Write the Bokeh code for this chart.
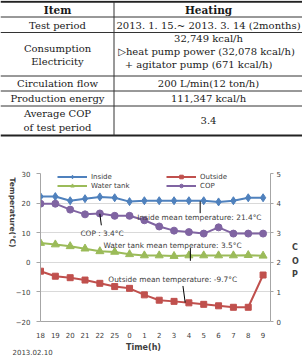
import math
from bokeh.plotting import figure
from bokeh.models import (Range1d, LinearAxis, Legend, LegendItem, Label, FixedTicker)
from bokeh.layouts import column
from bokeh.embed import file_html
from bokeh.resources import INLINE

# ---------------- data ----------------
hours = ["18", "19", "20", "21", "22", "25", "0", "1", "2", "3", "4", "5", "6", "7", "8", "9"]
inside = [22.2, 22.2, 20.8, 21.5, 22.1, 21.8, 20.5, 20.8, 20.8, 20.8, 20.8, 20.8, 20.4, 20.8, 21.8, 21.8]
outside = [-3.0, -4.7, -5.2, -6.0, -7.1, -8.2, -8.8, -11.0, -12.8, -13.2, -13.7, -14.2, -14.7, -15.2, -15.2, -4.3]
water_tank = [6.5, 6.0, 5.4, 4.6, 3.7, 3.5, 2.7, 2.3, 2.3, 2.1, 2.3, 2.3, 2.3, 2.3, 2.4, 2.2]
cop = [3.98, 3.98, 3.78, 3.62, 3.65, 3.57, 3.57, 3.42, 3.21, 3.07, 3.02, 2.97, 3.18, 2.97, 2.97, 2.97]

mean_inside = 21.4
mean_water = 3.5
mean_outside = -9.7
mean_cop = 3.4

table_items = ["Item", "Test period", "Consumption\nElectricity", "Circulation flow",
               "Production energy", "Average COP\nof test period"]
table_heating = ["Heating", "2013. 1. 15.~ 2013. 3. 14 (2months)",
                 "32,749 kcal/h\n\u25b7heat pump power (32,078 kcal/h)\n+ agitator pump (671 kcal/h)",
                 "200 L/min(12 ton/h)", "111,347 kcal/h", "3.4"]

W = 302


def no_frame_align(f):
    # each figure keeps its own frame; no lining up with the neighbours in the column
    if "frame_align" in f.properties():
        f.frame_align = False
    return f


def blank_panel(h):
    """A bare figure whose data units are the canvas pixels (y grows downward)."""
    f = figure(width=W, height=h, x_range=Range1d(0, W), y_range=Range1d(h, 0),
               output_backend="svg", toolbar_location=None,
               min_border_left=0, min_border_right=0, min_border_top=0, min_border_bottom=0,
               x_axis_location=None, y_axis_location=None, title=None)
    f.grid.visible = False
    f.outline_line_color = None
    return no_frame_align(f)


# ---------------- table ----------------
TH = 140
t = blank_panel(TH)

col_split = 113.5
row_lines = [16.5, 32, 75.5, 90.5, 105.5]
t.segment(x0=[0] * len(row_lines), x1=[W] * len(row_lines), y0=row_lines, y1=row_lines,
          line_color="#333333", line_width=1)
t.segment(x0=[0, 0], x1=[W, W], y0=[1.2, 135], y1=[1.2, 135], line_color="#222222", line_width=2)
t.segment(x0=[col_split], x1=[col_split], y0=[1], y1=[135], line_color="#333333", line_width=1)

# line centres of each cell's text
left_y = [[9], [24.5], [47.5, 61], [83], [98], [113, 127]]
right_y = [[9], [24.5], [38, 51, 64], [83], [98], [120]]
right_x = [[208], [208], [208, 206, 198], [208], [208], [208]]

cell_kw = dict(text_align="center", text_baseline="middle", text_color="#1a1a1a",
               text_font="DejaVu Serif")
for i, (a, b) in enumerate(zip(table_items, table_heating)):
    style = dict(text_font_style="bold", text_font_size="10.5px") if i == 0 else \
        dict(text_font_size="10px")
    for s, yy in zip(a.split("\n"), left_y[i]):
        t.add_layout(Label(x=57, y=yy, text=s, **cell_kw, **style))
    for s, yy, xx in zip(b.split("\n"), right_y[i], right_x[i]):
        t.add_layout(Label(x=xx, y=yy, text=s, **cell_kw, **style))

# ---------------- chart ----------------
blue, red, green, purple = "#4F81BD", "#C0504D", "#9BBB59", "#8064A2"
xs = list(range(len(hours)))

p = figure(width=W, height=200, x_range=Range1d(0, 15.5), y_range=Range1d(-20, 30),
           output_backend="svg", toolbar_location=None,
           min_border_left=40, min_border_right=32, min_border_top=33, min_border_bottom=15)
no_frame_align(p)
p.outline_line_color = None
p.xgrid.visible = False
p.ygrid.grid_line_color = "#d9d9d9"
p.ygrid.ticker = FixedTicker(ticks=[-20, -10, 0, 10, 20, 30])

p.extra_y_ranges = {"cop": Range1d(0, 5)}

tick_font = dict(major_label_text_font="DejaVu Sans", major_label_text_font_size="7px",
                 major_label_text_color="#404040")
title_font = dict(axis_label_text_font="DejaVu Sans", axis_label_text_font_style="bold",
                  axis_label_text_color="#404040", axis_label_text_font_size="8px")

xa = p.xaxis[0]
xa.ticker = FixedTicker(ticks=xs)
xa.major_label_overrides = {i: h for i, h in enumerate(hours)}
xa.axis_line_color = "#a6a6a6"
xa.major_tick_line_color = None
xa.minor_tick_line_color = None
xa.major_label_standoff = 4
for k, v in tick_font.items():
    setattr(xa, k, v)

ya = p.yaxis[0]
ya.ticker = FixedTicker(ticks=[-20, -10, 0, 10, 20, 30])
ya.axis_line_color = "#a6a6a6"
ya.major_tick_line_color = "#a6a6a6"
ya.major_tick_out = 4
ya.major_tick_in = 0
ya.minor_tick_line_color = None
ya.major_label_standoff = 6
ya.axis_label = "Temperature(\u2103)"
ya.axis_label_standoff = 0
for k, v in {**tick_font, **title_font}.items():
    setattr(ya, k, v)
ya.axis_label_text_font_size = "7.5px"

ra = LinearAxis(y_range_name="cop", ticker=FixedTicker(ticks=[0, 1, 2, 3, 4, 5]))
ra.axis_line_color = "#a6a6a6"
ra.major_tick_line_color = "#a6a6a6"
ra.major_tick_out = 3
ra.major_tick_in = 0
ra.minor_tick_line_color = None
ra.major_label_standoff = 3
ra.axis_label_standoff = 8
for k, v in {**tick_font, **title_font}.items():
    setattr(ra, k, v)
ra.axis_label_text_line_height = 1.5

if "axis_label_orientation" in ya.properties():
    ya.axis_label_orientation = -math.pi / 2
    ra.axis_label = "\n\nC\nO\nP"
    ra.axis_label_orientation = "horizontal"
else:
    ra.axis_label = "COP"
p.add_layout(ra, "right")

l1 = p.line(xs, inside, line_color=blue, line_width=2)
m1 = p.scatter(xs, inside, marker="diamond", size=8, fill_color=blue, line_color=blue)
l2 = p.line(xs, outside, line_color=red, line_width=2)
m2 = p.scatter(xs, outside, marker="square", size=6, fill_color=red, line_color=red)
l3 = p.line(xs, water_tank, line_color=green, line_width=2)
m3 = p.scatter(xs, water_tank, marker="triangle", size=8, fill_color=green, line_color=green)
l4 = p.line(xs, cop, line_color=purple, line_width=2, y_range_name="cop")
m4 = p.scatter(xs, cop, marker="circle", size=7, fill_color=purple, line_color=purple,
               y_range_name="cop")

legend = Legend(items=[LegendItem(label="Inside", renderers=[l1, m1]),
                       LegendItem(label="Outside", renderers=[l2, m2]),
                       LegendItem(label="Water tank", renderers=[l3, m3]),
                       LegendItem(label="COP", renderers=[l4, m4])],
                orientation="horizontal", ncols=2,
                location=(17, 131), padding=1, margin=0, spacing=0,
                glyph_width=30, glyph_height=9, label_height=9, label_width=75,
                label_standoff=4, label_text_font="DejaVu Sans", label_text_font_size="7px",
                label_text_color="#404040", background_fill_alpha=0, border_line_color=None)
p.add_layout(legend, "center")

# mean-value notes with leader lines
note_kw = dict(text_font="DejaVu Sans", text_font_size="7.4px", text_color="#404040",
               text_baseline="middle", text_align="left")
p.add_layout(Label(x=6.52, y=15.2, text=f"Inside mean temperature: {mean_inside}\u00b0C", **note_kw))
p.add_layout(Label(x=2.69, y=9.6, text=f"COP : {mean_cop}\u00b0C", **note_kw))
p.add_layout(Label(x=4.24, y=5.66, text=f"Water tank mean temperature: {mean_water}\u00b0C", **note_kw))
p.add_layout(Label(x=4.57, y=-5.86, text=f"Outside mean temperature: {mean_outside}\u00b0C", **note_kw))
p.segment(x0=[10.76, 4.0, 10.1, 9.6], y0=[20.6, 16.4, 4.8, -8.0],
          x1=[10.76, 4.1, 10.1, 9.75], y1=[16.6, 12.5, 0.5, -13.6],
          line_color="#000000", line_width=1)

# ---------------- strip under the chart: axis title and date ----------------
SH = 19
s = blank_panel(SH)
s.add_layout(Label(x=143, y=6.5, text="Time(h)", text_align="center", text_baseline="middle",
                   text_font="DejaVu Sans", text_font_style="bold", text_font_size="8px",
                   text_color="#404040"))
s.add_layout(Label(x=12, y=11, text="2013.02.10", text_align="left", text_baseline="middle",
                   text_font="DejaVu Sans", text_font_size="7px", text_color="#404040"))

layout = column(t, p, s, spacing=0)
open("out.html", "w").write(file_html(layout, INLINE))
